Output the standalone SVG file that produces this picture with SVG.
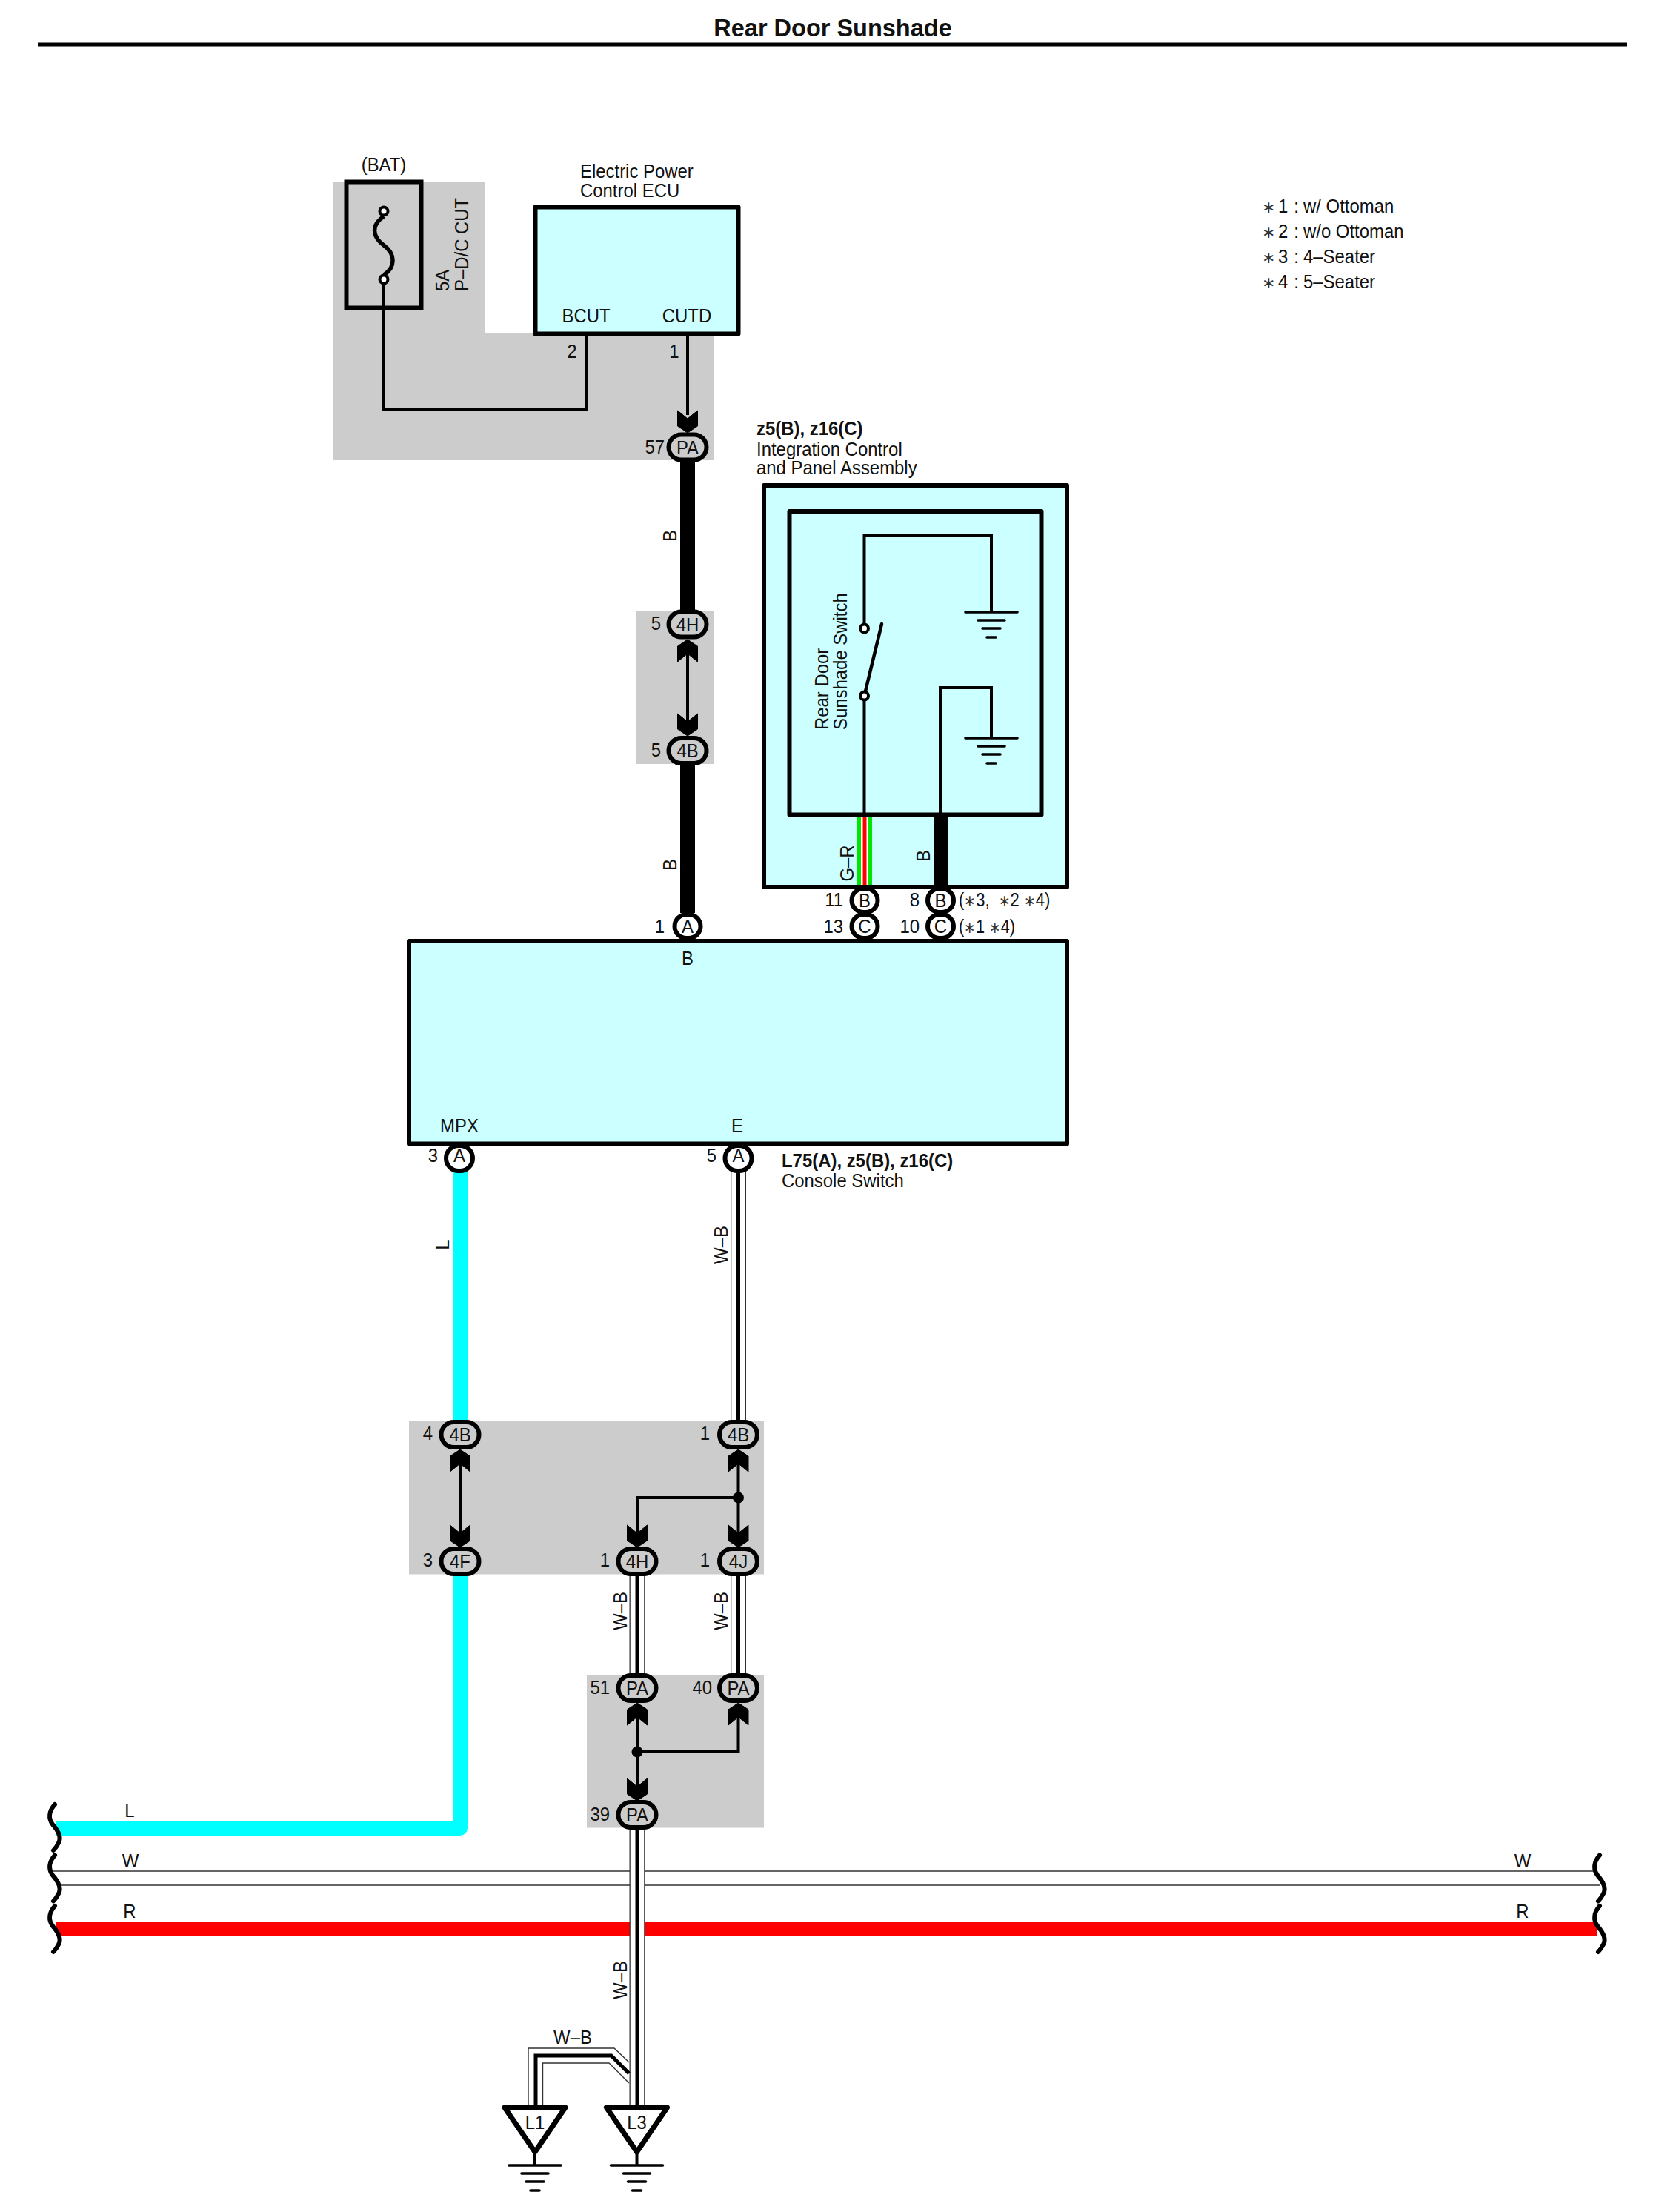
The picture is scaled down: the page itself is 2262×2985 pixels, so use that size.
<svg xmlns="http://www.w3.org/2000/svg" xmlns:xlink="http://www.w3.org/1999/xlink" width="2262" height="2985" viewBox="0 0 2262 2985">
<style>
text{font-family:"Liberation Sans",Arial,sans-serif;font-size:26px;fill:#111}
.b{font-weight:bold}.m{text-anchor:middle}.e{text-anchor:end}
.ast{font-size:22px;fill:#333}
.region{fill:#ccc}
.box{fill:#ccffff;stroke:#000;stroke-width:6;stroke-linejoin:round}
.thin{fill:none;stroke:#000;stroke-width:4;stroke-linejoin:miter}
.gnd{fill:none;stroke:#000;stroke-width:3.6;stroke-linecap:round}
.ov{fill:#ccc;stroke:#000;stroke-width:6}
.rd{fill:#fff;stroke:#000;stroke-width:6}
.thick{fill:none;stroke:#000;stroke-width:20}
.cy{fill:none;stroke:#00ffff;stroke-width:20;stroke-linejoin:round}
.red{fill:none;stroke:#f00;stroke-width:20}
.wl{stroke:#333;stroke-width:1.4;fill:none}
.wbo{stroke:#333;stroke-width:21;fill:none}
.wbi{stroke:#fff;stroke-width:18.4;fill:none}
.wbc{stroke:#000;stroke-width:5;fill:none}
.brk{fill:none;stroke:#000;stroke-width:6;stroke-linecap:round}
.pin{fill:#fff;stroke:#000;stroke-width:4}
.ter{fill:#fff;stroke:#000;stroke-width:7;stroke-linejoin:round}
.ahd{fill:#000;stroke:#000;stroke-width:1}
</style>
<defs>
<path id="ah" class="ahd" d="M0,0L13.500,-9L13.500,-30L0,-19L-13.500,-30L-13.500,-9Z"/>
<path id="brk" class="brk" d="M74,2435C66,2444 65,2454 71,2462C79,2471 83,2480 79,2487C77,2491 75,2494 72,2497"/>
<g id="earth"><path class="gnd" d="M-35,0H35M-18,11H18M-12,22H12M-6,34H6"/></g>
</defs>
<rect width="2262" height="2985" fill="#fff"/>
<text class="b m" x="1124" y="49" style="font-size:32.500px">Rear Door Sunshade</text>
<rect x="51" y="57.500" width="2145" height="5" fill="#000"/>

<g id="regions">
<path class="region" d="M449,245H655V449H963V621H449Z"/>
<rect class="region" x="858" y="825" width="105" height="206"/>
<rect class="region" x="552" y="1918" width="479" height="206.500"/>
<rect class="region" x="792" y="2260" width="239" height="206.500"/>
</g>

<g id="fuse-bat">
<rect x="467.500" y="245.500" width="101" height="170" fill="none" stroke="#000" stroke-width="6"/>
<path d="M518,292C500,304 503,320 518,331C533,342 535,360 518,371" fill="none" stroke="#000" stroke-width="5.500"/>
<circle class="pin" cx="518" cy="285" r="5.500"/><circle class="pin" cx="518" cy="377" r="5.500"/>
<text class="m" transform="matrix(.92 0 0 1 518 231)">(BAT)</text>
<text transform="matrix(0 -.92 1 0 606 393)">5A</text>
<text transform="matrix(0 -.92 1 0 632 393)">P–D/C CUT</text>
</g>

<g id="ecu">
<rect class="box" x="722.500" y="279.500" width="274" height="171"/>
<text transform="matrix(.92 0 0 1 783 240)">Electric Power</text><text transform="matrix(.92 0 0 1 783 266)">Control ECU</text>
<text class="m" transform="matrix(.92 0 0 1 791 435)">BCUT</text><text class="m" transform="matrix(.92 0 0 1 927 435)">CUTD</text>
<text class="m" transform="matrix(.92 0 0 1 772 483)">2</text><text class="m" transform="matrix(.92 0 0 1 910 483)">1</text>
</g>

<g id="integration-panel">
<rect class="box" x="1031" y="655" width="409" height="542"/>
<rect class="box" x="1065.500" y="690" width="340" height="409.500"/>
<text class="b" transform="matrix(.92 0 0 1 1021 587)">z5(B), z16(C)</text>
<text transform="matrix(.92 0 0 1 1021 615)">Integration Control</text><text transform="matrix(.92 0 0 1 1021 640)">and Panel Assembly</text>
<path class="thin" d="M1166.500,842V723H1338V826"/>
<path class="thin" d="M1166.500,939V1099"/>
<path class="thin" d="M1269,1099V928H1338V996"/>
<use href="#earth" x="1338" y="826"/><use href="#earth" x="1338" y="996"/>
<path d="M1166.500,939L1190,842" stroke="#000" stroke-width="4.500" fill="none" stroke-linecap="round"/>
<circle class="pin" cx="1166.500" cy="848" r="5.500"/><circle class="pin" cx="1166.500" cy="939" r="5.500"/>
<text transform="matrix(0 -.92 1 0 1117.500 985)">Rear Door</text>
<text transform="matrix(0 -.92 1 0 1143 985)">Sunshade Switch</text>
</g>

<g id="console-switch">
<rect class="box" x="552" y="1270" width="888" height="273.500"/>
<text class="m" transform="matrix(.92 0 0 1 928 1302)">B</text>
<text class="m" transform="matrix(.92 0 0 1 620 1528)">MPX</text><text class="m" transform="matrix(.92 0 0 1 995 1528)">E</text>
<text class="b" transform="matrix(.92 0 0 1 1055 1575)">L75(A), z5(B), z16(C)</text>
<text transform="matrix(.92 0 0 1 1055 1602)">Console Switch</text>
</g>

<g id="connectors">
<path class="thin" d="M518,383V552H791.500V453"/>
<path class="thin" d="M928,453V560"/>
<path class="thick" d="M928,623V823M928,1033V1232"/>
<path class="thin" d="M928,880V975"/>
<path class="thin" d="M621,1970V2070"/>
<path class="thin" d="M996.500,1970V2070M996.500,2021H860V2070"/>
<path class="thin" d="M860,2315V2412M860,2364H996.500V2315"/>
<circle cx="996.500" cy="2021" r="7.500"/><circle cx="860" cy="2364" r="7.500"/>
<use href="#ah" transform="translate(928 584)"/>
<use href="#ah" transform="translate(928 863) rotate(180)"/><use href="#ah" transform="translate(928 993)"/>
<use href="#ah" transform="translate(621 1956) rotate(180)"/><use href="#ah" transform="translate(621 2088)"/>
<use href="#ah" transform="translate(996.500 1956) rotate(180)"/><use href="#ah" transform="translate(996.500 2088)"/>
<use href="#ah" transform="translate(860 2088)"/>
<use href="#ah" transform="translate(860 2298) rotate(180)"/><use href="#ah" transform="translate(996.500 2298) rotate(180)"/>
<use href="#ah" transform="translate(860 2430)"/>
<path d="M1167,1102V1194" stroke="#00e600" stroke-width="20" fill="none"/>
<path d="M1167,1102V1194" stroke="#fff" stroke-width="10" fill="none"/>
<path d="M1167,1102V1194" stroke="#f00" stroke-width="5" fill="none"/>
<path class="thick" d="M1270,1102V1194"/>
<path class="cy" d="M621,1575V1916"/>
<path class="cy" d="M621,2126V2467H75"/>
<path class="wl" d="M72,2525H2150M82,2544H2160"/>
<path class="red" d="M75,2603H2155"/>
<g id="wire-wb">
<path class="wbo" d="M996.500,1580V1918M996.500,2124V2260M860,2124V2260M860,2466V2845"/>
<path class="wbi" d="M996.500,1580V1918M996.500,2124V2260M860,2124V2260M860,2466V2845"/>
<path class="wbc" d="M996.500,1580V1918M996.500,2124V2260M860,2124V2260M860,2466V2845"/>
<path class="wl" d="M713,2842V2764H829L849,2783M732.500,2842V2784H822L849,2811"/>
<path class="wbc" d="M723,2842V2774H825L849,2798"/>
</g>
<use href="#brk"/><use href="#brk" y="68.500"/><use href="#brk" y="137"/>
<use href="#brk" x="2085" y="68.500"/><use href="#brk" x="2085" y="137"/>
</g>

<g id="wire-labels">
<text class="m" transform="matrix(0 -.92 1 0 913 723)">B</text>
<text class="m" transform="matrix(0 -.92 1 0 913 1167)">B</text>
<text class="m" transform="matrix(0 -.92 1 0 1152 1165)">G–R</text>
<text class="m" transform="matrix(0 -.92 1 0 1255 1155)">B</text>
<text class="m" transform="matrix(0 -.92 1 0 606 1680)">L</text>
<text class="m" transform="matrix(0 -.92 1 0 981.500 1680)">W–B</text>
<text class="m" transform="matrix(0 -.92 1 0 846 2174)">W–B</text>
<text class="m" transform="matrix(0 -.92 1 0 981.500 2174)">W–B</text>
<text class="m" transform="matrix(0 -.92 1 0 846 2672)">W–B</text>
<text class="m" transform="matrix(.92 0 0 1 773 2758)">W–B</text>
<text class="m" transform="matrix(.92 0 0 1 175 2452)">L</text><text class="m" transform="matrix(.92 0 0 1 176 2520)">W</text><text class="m" transform="matrix(.92 0 0 1 175 2588)">R</text>
<text class="m" transform="matrix(.92 0 0 1 2055 2520)">W</text><text class="m" transform="matrix(.92 0 0 1 2055 2588)">R</text>
</g>

<g id="conn-57PA"><rect class="ov" x="902.500" y="586.500" width="51" height="34" rx="17"/><text class="m" transform="matrix(.92 0 0 1 928 612.500)">PA</text><text class="e" transform="matrix(.92 0 0 1 897 612)">57</text></g>
<g id="conn-5-4H"><rect class="ov" x="902.500" y="825.500" width="51" height="34" rx="17"/><text class="m" transform="matrix(.92 0 0 1 928 851.500)">4H</text><text class="e" transform="matrix(.92 0 0 1 892 850)">5</text></g>
<g id="conn-5-4B"><rect class="ov" x="902.500" y="996" width="51" height="34" rx="17"/><text class="m" transform="matrix(.92 0 0 1 928 1022)">4B</text><text class="e" transform="matrix(.92 0 0 1 892 1021)">5</text></g>
<g id="conn-11B"><rect class="rd" x="1149.500" y="1199" width="35" height="32" rx="16"/><text class="m" transform="matrix(.92 0 0 1 1167 1224)">B</text><text class="e" transform="matrix(.92 0 0 1 1138 1223)">11</text></g>
<g id="conn-8B"><rect class="rd" x="1252" y="1199" width="35" height="32" rx="16"/><text class="m" transform="matrix(.92 0 0 1 1269.500 1224)">B</text><text class="e" transform="matrix(.92 0 0 1 1241 1223)">8</text><text transform="matrix(.92 0 0 1 1294 1223)" textLength="134" lengthAdjust="spacingAndGlyphs" xml:space="preserve">(<tspan class="ast">∗</tspan>3,  <tspan class="ast">∗</tspan>2 <tspan class="ast">∗</tspan>4)</text></g>
<g id="conn-13C"><rect class="rd" x="1149.500" y="1234" width="35" height="32" rx="16"/><text class="m" transform="matrix(.92 0 0 1 1167 1259)">C</text><text class="e" transform="matrix(.92 0 0 1 1138 1259)">13</text></g>
<g id="conn-10C"><rect class="rd" x="1252" y="1234" width="35" height="32" rx="16"/><text class="m" transform="matrix(.92 0 0 1 1269.500 1259)">C</text><text class="e" transform="matrix(.92 0 0 1 1241 1259)">10</text><text transform="matrix(.92 0 0 1 1294 1259)" textLength="82.600" lengthAdjust="spacingAndGlyphs">(<tspan class="ast">∗</tspan>1 <tspan class="ast">∗</tspan>4)</text></g>
<g id="conn-1A"><rect class="rd" x="910.500" y="1234" width="35" height="32" rx="16"/><text class="m" transform="matrix(.92 0 0 1 928 1259)">A</text><text class="e" transform="matrix(.92 0 0 1 897 1259)">1</text></g>
<g id="conn-3A"><rect class="rd" x="602" y="1546" width="36" height="34" rx="17"/><text class="m" transform="matrix(.92 0 0 1 620 1568)">A</text><text class="e" transform="matrix(.92 0 0 1 591 1568)">3</text></g>
<g id="conn-5A"><rect class="rd" x="978.500" y="1546" width="36" height="34" rx="17"/><text class="m" transform="matrix(.92 0 0 1 996.500 1568)">A</text><text class="e" transform="matrix(.92 0 0 1 967 1568)">5</text></g>
<g id="conn-4-4B"><rect class="ov" x="595.500" y="1919" width="51" height="34" rx="17"/><text class="m" transform="matrix(.92 0 0 1 621 1945)">4B</text><text class="e" transform="matrix(.92 0 0 1 584 1943)">4</text></g>
<g id="conn-1-4B"><rect class="ov" x="971" y="1919" width="51" height="34" rx="17"/><text class="m" transform="matrix(.92 0 0 1 996.500 1945)">4B</text><text class="e" transform="matrix(.92 0 0 1 958 1943)">1</text></g>
<g id="conn-3-4F"><rect class="ov" x="595.500" y="2090" width="51" height="34" rx="17"/><text class="m" transform="matrix(.92 0 0 1 621 2116)">4F</text><text class="e" transform="matrix(.92 0 0 1 584 2114)">3</text></g>
<g id="conn-1-4H"><rect class="ov" x="834.500" y="2090" width="51" height="34" rx="17"/><text class="m" transform="matrix(.92 0 0 1 860 2116)">4H</text><text class="e" transform="matrix(.92 0 0 1 823 2114)">1</text></g>
<g id="conn-1-4J"><rect class="ov" x="971" y="2090" width="51" height="34" rx="17"/><text class="m" transform="matrix(.92 0 0 1 996.500 2116)">4J</text><text class="e" transform="matrix(.92 0 0 1 958 2114)">1</text></g>
<g id="conn-51PA"><rect class="ov" x="834.500" y="2261" width="51" height="34" rx="17"/><text class="m" transform="matrix(.92 0 0 1 860 2287)">PA</text><text class="e" transform="matrix(.92 0 0 1 823 2286)">51</text></g>
<g id="conn-40PA"><rect class="ov" x="971" y="2261" width="51" height="34" rx="17"/><text class="m" transform="matrix(.92 0 0 1 996.500 2287)">PA</text><text class="e" transform="matrix(.92 0 0 1 961 2286)">40</text></g>
<g id="conn-39PA"><rect class="ov" x="834.500" y="2432" width="51" height="34" rx="17"/><text class="m" transform="matrix(.92 0 0 1 860 2458)">PA</text><text class="e" transform="matrix(.92 0 0 1 823 2457)">39</text></g>

<g id="ground-L1">
<path class="ter" d="M681,2844H763L722,2904Z"/><path class="thin" d="M722,2904V2922"/><use href="#earth" x="722" y="2922"/>
<text class="m" transform="matrix(.92 0 0 1 722 2873)">L1</text>
</g>
<g id="ground-L3">
<path class="ter" d="M818.500,2844H900.500L859.500,2904Z"/><path class="thin" d="M859.500,2904V2922"/><use href="#earth" x="859.500" y="2922"/>
<text class="m" transform="matrix(.92 0 0 1 859.500 2873)">L3</text>
</g>

<g id="legend">
<text class="ast" x="1703" y="287">∗</text><text transform="matrix(.92 0 0 1 1725 287)">1</text><text x="1746" y="287">:</text><text transform="matrix(.92 0 0 1 1759 287)">w/ Ottoman</text>
<text class="ast" x="1703" y="321">∗</text><text transform="matrix(.92 0 0 1 1725 321)">2</text><text x="1746" y="321">:</text><text transform="matrix(.92 0 0 1 1759 321)">w/o Ottoman</text>
<text class="ast" x="1703" y="355">∗</text><text transform="matrix(.92 0 0 1 1725 355)">3</text><text x="1746" y="355">:</text><text transform="matrix(.92 0 0 1 1759 355)">4–Seater</text>
<text class="ast" x="1703" y="389">∗</text><text transform="matrix(.92 0 0 1 1725 389)">4</text><text x="1746" y="389">:</text><text transform="matrix(.92 0 0 1 1759 389)">5–Seater</text>
</g>
</svg>
